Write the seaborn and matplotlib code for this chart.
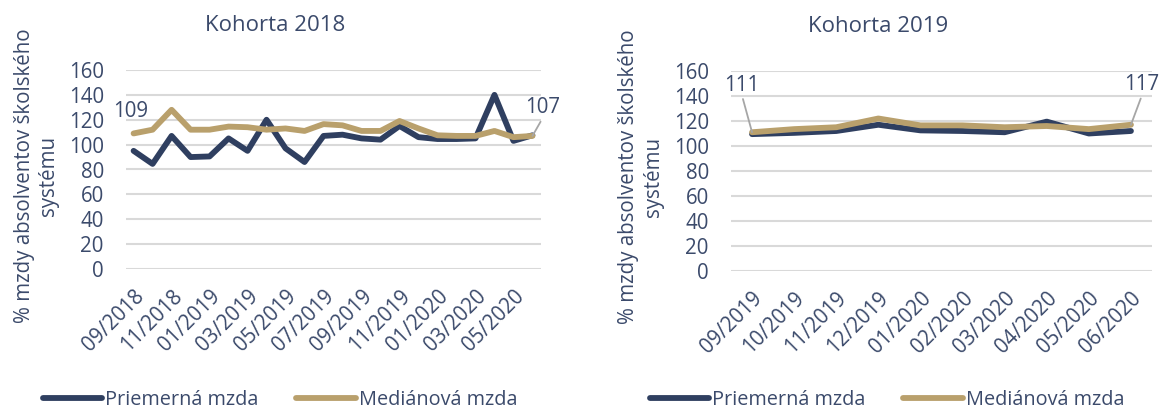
import matplotlib
matplotlib.use("Agg")
import matplotlib.pyplot as plt
import seaborn as sns
import pandas as pd

# ---- data -------------------------------------------------------------
months_2018 = ["09/2018", "10/2018", "11/2018", "12/2018", "01/2019", "02/2019",
               "03/2019", "04/2019", "05/2019", "06/2019", "07/2019", "08/2019",
               "09/2019", "10/2019", "11/2019", "12/2019", "01/2020", "02/2020",
               "03/2020", "04/2020", "05/2020", "06/2020"]
avg_2018 = [95, 84.5, 107, 90, 90.5, 105, 95, 120, 97, 86, 107, 108,
            105, 104, 115, 106, 104.5, 104.5, 105, 140, 103, 107.5]
med_2018 = [109, 112, 128, 112, 112, 114.5, 114, 112, 113, 111, 116.5, 115.5,
            111, 111, 119, 113, 107.5, 107, 107, 111, 106, 107]

months_2019 = ["09/2019", "10/2019", "11/2019", "12/2019", "01/2020",
               "02/2020", "03/2020", "04/2020", "05/2020", "06/2020"]
avg_2019 = [109.5, 110.5, 112, 117, 112.5, 112, 111, 119.5, 110, 112]
med_2019 = [111, 113.5, 115, 122, 116.5, 116.5, 115, 116, 113.5, 117]

series_names = ["Priemerná mzda", "Mediánová mzda"]
titles = ["Kohorta 2018", "Kohorta 2019"]
ylabel = "% mzdy absolventov školského\nsystému"
yticks = [0, 20, 40, 60, 80, 100, 120, 140, 160]

# ---- style ------------------------------------------------------------
sns.set_theme(style="white")
plt.rcParams["font.family"] = ["Open Sans", "DejaVu Sans"]
TXT = "#3b4a6b"
NAVY = "#2f3f60"
TAN = "#b9a06c"
GRID = "#d9d9d9"
FS = 14.8

fig = plt.figure(figsize=(11.64, 4.12), dpi=100)
ax1 = fig.add_axes([126 / 1164, 1 - 269 / 412, 415 / 1164, 199 / 412])
ax2 = fig.add_axes([731 / 1164, 1 - 271 / 412, 421 / 1164, 200 / 412])


def make_df(months, avg, med):
    return pd.DataFrame({
        "month": months * 2,
        "value": avg + med,
        "series": [series_names[0]] * len(months) + [series_names[1]] * len(months),
    })


def draw(ax, months, avg, med, title, tick_step, xlim, ylabel_x, title_x):
    df = make_df(months, avg, med)
    sns.lineplot(data=df, x="month", y="value", hue="series", sort=False,
                 palette=[NAVY, TAN], linewidth=4.2, ax=ax, legend=True,
                 solid_capstyle="round", solid_joinstyle="round")
    ax.set_ylim(0, 160)
    ax.set_xlim(*xlim)
    ax.set_yticks(yticks)
    ax.set_yticklabels([str(v) for v in yticks], fontsize=FS, color=TXT)
    idx = list(range(0, len(months), tick_step))
    ax.set_xticks(idx)
    ax.set_xticklabels([months[i] for i in idx], rotation=45, ha="right",
                       rotation_mode="anchor", fontsize=FS, color=TXT)
    ax.tick_params(axis="x", length=0, pad=12)
    ax.tick_params(axis="y", length=0, pad=16)
    ax.grid(axis="y", color=GRID, linewidth=1.5)
    ax.grid(axis="x", visible=False)
    ax.set_axisbelow(True)
    for s in ax.spines.values():
        s.set_visible(False)
    ax.set_xlabel("")
    ax.set_ylabel(ylabel, fontsize=FS, color=TXT, linespacing=1.2)
    ax.yaxis.set_label_coords(ylabel_x, 0.47)
    ax.set_title(title, fontsize=16, color=TXT, x=title_x, y=1.0, pad=28)
    handles, labels = ax.get_legend_handles_labels()
    ax.get_legend().remove()
    return handles, labels


h1, l1 = draw(ax1, months_2018, avg_2018, med_2018, titles[0], 2,
              (-0.4, 21.45), -0.162, 0.359)
h2, l2 = draw(ax2, months_2019, avg_2019, med_2019, titles[1], 1,
              (-0.5, 9.5), -0.16, 0.349)

for h in h1 + h2:
    h.set_solid_capstyle("round")

leg_kw = dict(loc="center", ncol=2, frameon=False, fontsize=14.3,
              handlelength=3.0, handletextpad=0.15, columnspacing=1.9,
              labelcolor=TXT)
fig.legend(h1, l1, bbox_to_anchor=(280 / 1164, 0.03), **leg_kw)
fig.legend(h2, l2, bbox_to_anchor=(887 / 1164, 0.03), **leg_kw)

arrow = dict(arrowstyle="-", color="#a6a6a6", lw=1.3, shrinkA=0, shrinkB=0,
             relpos=(0.5, 0.0))
# data labels
ax1.annotate(str(round(med_2018[0])), xy=(0, med_2018[0]), xytext=(-3, 22),
             textcoords="offset pixels", ha="center", va="center",
             fontsize=FS, color=TXT)
ax1.annotate(str(round(med_2018[-1])), xy=(len(med_2018) - 1, med_2018[-1]),
             xytext=(10, 28), textcoords="offset pixels", ha="center",
             va="center", fontsize=FS, color=TXT, arrowprops=arrow)
ax2.annotate(str(round(med_2019[0])), xy=(0, med_2019[0]), xytext=(-10, 47),
             textcoords="offset pixels", ha="center", va="center",
             fontsize=FS, color=TXT, arrowprops=arrow)
ax2.annotate(str(round(med_2019[-1])), xy=(len(med_2019) - 1, med_2019[-1]),
             xytext=(11, 40), textcoords="offset pixels", ha="center",
             va="center", fontsize=FS, color=TXT, arrowprops=arrow)

fig.savefig("out.png", dpi=100)
